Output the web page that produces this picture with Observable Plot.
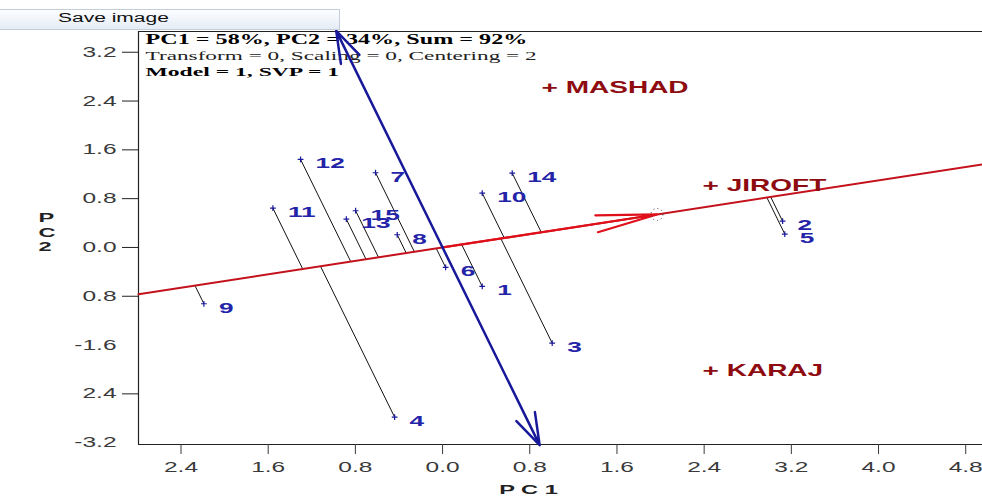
<!DOCTYPE html>
<html><head><meta charset="utf-8">
<script src="https://cdn.jsdelivr.net/npm/d3@7"></script>
<script src="https://cdn.jsdelivr.net/npm/@observablehq/plot@0.6"></script>
<style>
body{margin:0;background:#fff;overflow:hidden;width:982px;height:504px;position:relative;}
#bar{position:absolute;left:0;top:9px;width:340px;height:21px;background:linear-gradient(#fdfeff,#e4ecf6);border:1px solid #c3ceda;border-left:none;box-sizing:border-box;z-index:2;}
#bar span{position:absolute;left:58px;top:1px;font:12px "Liberation Sans",Arial,sans-serif;color:#111;transform:scaleX(1.75);transform-origin:left center;white-space:nowrap;}
#chart{position:absolute;left:0;top:0;z-index:1}
</style></head><body>
<div id="bar"><span>Save image</span></div>
<div id="chart"></div>
<script>
// ---- data ----
const genotypes = ["1","2","3","4","5","6","7","8","9","10","11","12","13","14","15"];
const gPC1 = [0.364, 3.12, 1.006, -0.440, 3.14, 0.028, -0.615, -0.416, -2.190, 0.364, -1.557, -1.303, -0.883, 0.639, -0.798];
const gPC2 = [-0.639, 0.43, -1.569, -2.782, 0.22, -0.328, 1.225, 0.208, -0.923, 0.890, 0.644, 1.443, 0.464, 1.218, 0.602];
const environments = ["MASHAD", "JIROFT", "KARAJ"];
const ePC1 = [0.982, 2.459, 2.459];
const ePC2 = [2.623, 1.016, -2.017];
const xTickValues = [-2.4, -1.6, -0.8, 0, 0.8, 1.6, 2.4, 3.2, 4.0, 4.8];
const xTickLabels = ["2.4", "1.6", "0.8", "0.0", "0.8", "1.6", "2.4", "3.2", "4.0", "4.8"];
const yTickValues = [3.2, 2.4, 1.6, 0.8, 0, -0.8, -1.6, -2.4, -3.2];
const yTickLabels = ["3.2", "2.4", "1.6", "0.8", "0.0", "0.8", "-1.6", "2.4", "-3.2"];
const yTickLines = [3.2, 2.4, 1.6, 0.8, 0, -0.8, -2.4];
const infoLines = ["PC1 = 58%, PC2 = 34%, Sum = 92%", "Transform = 0, Scaling = 0, Centering = 2", "Model = 1, SVP = 1"];
const xDomain = [-2.79, 4.954];
const yDomain = [-3.23, 3.54];

// ---- derived geometry (GGE average-environment coordinate) ----
const G = genotypes.map((g, i) => ({g, x: gPC1[i], y: gPC2[i]}));
const E = environments.map((e, i) => ({e, x: ePC1[i], y: ePC2[i]}));
const ax = d3.mean(ePC1), ay = d3.mean(ePC2);
const L = Math.hypot(ax, ay), ux = ax / L, uy = ay / L;
const aea = xDomain.map(x => ({x, y: x * ay / ax}));
const foot = d => { const t = d.x * ux + d.y * uy; return [t * ux, t * uy]; };
const sTop = (yDomain[1] + 0.01) / ux, sBot = (yDomain[0] - 0.01) / ux;
const ordinate = [
  {x1: 0, y1: 0, x2: -uy * sTop, y2: ux * sTop},
  {x1: 0, y1: 0, x2: -uy * sBot, y2: ux * sBot}
];
const avgEnv = [{x1: 0, y1: 0, x2: ax, y2: ay}];
const lab = (vals, labs) => d => labs[vals.findIndex(v => Math.abs(v - d) < 1e-9)];

const blue = "#18189a", red = "#c4121c";
const plot = Plot.plot({
  width: 982, height: 504,
  marginLeft: 138, marginRight: 0, marginTop: 31, marginBottom: 60,
  style: {background: "transparent", fontFamily: "'Liberation Sans', Arial, sans-serif"},
  x: {domain: xDomain},
  y: {domain: yDomain},
  marks: [
    Plot.ruleX([xDomain[0]], {stroke: "#222", strokeWidth: 1.2}),
    Plot.ruleY(yDomain, {stroke: "#222", strokeWidth: 1.2}),
    Plot.axisX({ticks: xTickValues, tickFormat: lab(xTickValues, xTickLabels), tickSize: 10, tickPadding: 8, fontSize: 14, color: "#3a3a3a", label: null}),
    Plot.axisY({ticks: yTickValues, tickFormat: lab(yTickValues, yTickLabels), tickSize: 0, tickPadding: 22, fontSize: 14, color: "#3a3a3a", label: null}),
    Plot.axisY({ticks: yTickLines, tickSize: 16, text: null, label: null, stroke: "#222"}),
    Plot.text(["P C 1"], {frameAnchor: "bottom", dx: -32, dy: 49, fontSize: 13.5, fontWeight: "bold", fill: "#222"}),
    Plot.text(["P\nC\n2"], {frameAnchor: "left", dx: -100, dy: -6, lineHeight: 1.05, fontSize: 13.5, fontWeight: "bold", fill: "#222"}),
    Plot.text([infoLines[0]], {frameAnchor: "top-left", dx: 7, dy: 3, textAnchor: "start", lineAnchor: "top", fontFamily: "'Liberation Serif', 'Times New Roman', serif", fontSize: 13.8, fontWeight: "bold", fill: "#000"}),
    Plot.text([infoLines[1]], {frameAnchor: "top-left", dx: 7, dy: 19, textAnchor: "start", lineAnchor: "top", fontFamily: "'Liberation Serif', 'Times New Roman', serif", fontSize: 13.3, fill: "#222"}),
    Plot.text([infoLines[2]], {frameAnchor: "top-left", dx: 7, dy: 35, textAnchor: "start", lineAnchor: "top", fontFamily: "'Liberation Serif', 'Times New Roman', serif", fontSize: 13.5, fontWeight: "bold", fill: "#000"}),
    Plot.link(G, {x1: "x", y1: "y", x2: d => foot(d)[0], y2: d => foot(d)[1], stroke: "#111", strokeWidth: 1}),
    Plot.line(aea, {x: "x", y: "y", stroke: red, strokeWidth: 2}),
    Plot.arrow(avgEnv, {x1: "x1", y1: "y1", x2: "x2", y2: "y2", stroke: "#e0101a", strokeWidth: 2.2, headLength: 42, headAngle: 16}),
    Plot.dot([{x: ax, y: ay}], {x: "x", y: "y", r: 6, stroke: "#444", strokeWidth: 1, strokeDasharray: "1,3"}),
    Plot.arrow(ordinate, {x1: "x1", y1: "y1", x2: "x2", y2: "y2", stroke: blue, strokeWidth: 2.5, headLength: 20, headAngle: 36}),
    Plot.dot(G, {x: "x", y: "y", symbol: "plus", r: 2, stroke: blue, strokeWidth: 1.2}),
    Plot.text(G, {x: "x", y: "y", text: "g", dx: 15, dy: 4, textAnchor: "start", fontSize: 15, fontWeight: "bold", fill: "#2424a8"}),
    Plot.text(E, {x: "x", y: "y", text: d => "+ " + d.e, dx: -8, dy: 0, textAnchor: "start", fontSize: 16, fontWeight: "bold", fill: "#8e0c10"})
  ]
});
// the reference picture is stretched horizontally: widen the glyphs the same way
plot.querySelectorAll("text").forEach(t => {
  const tr = t.getAttribute("transform");
  if (tr) t.setAttribute("transform", tr + " scale(1.75,1)");
});
document.getElementById("chart").append(plot);
</script>
</body></html>
